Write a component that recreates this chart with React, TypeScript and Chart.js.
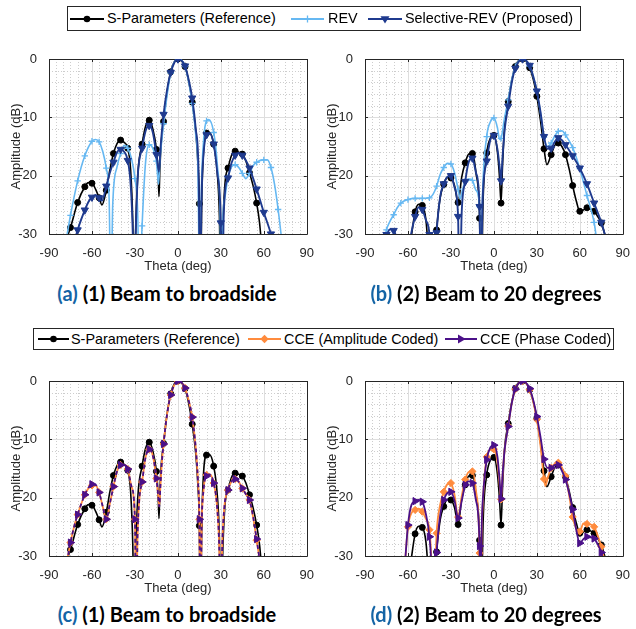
import React, { useEffect, useRef } from 'react';
import { Chart, registerables } from 'chart.js';

Chart.register(...registerables);

type Pt = [number, number];

// ---------- axis ticks ----------
const xTickValues = [-90, -60, -30, 0, 30, 60, 90];
const yTickValues = [-30, -20, -10, 0];
const xMinorTicks = [-85, -80, -75, -70, -65, -55, -50, -45, -40, -35, -25, -20, -15, -10, -5, 5, 10, 15, 20, 25, 35, 40, 45, 50, 55, 65, 70, 75, 80, 85];
const yMinorTicks = [-28, -26, -24, -22, -18, -16, -14, -12, -8, -6, -4, -2];

// ---------- legend / caption labels ----------
const legendTop = ['S-Parameters (Reference)', 'REV', 'Selective-REV (Proposed)'];
const legendBottom = ['S-Parameters (Reference)', 'CCE (Amplitude Coded)', 'CCE (Phase Coded)'];
const captionTags = ['(a)', '(b)', '(c)', '(d)'];
const captionTexts = ['(1) Beam to broadside', '(2) Beam to 20 degrees', '(1) Beam to broadside', '(2) Beam to 20 degrees'];

// ---------- data: [theta (deg), amplitude (dB)] ----------
// Beam 1 (broadside)
const beam1SParam: Pt[] = [[-78,-31],[-75,-28.9],[-70,-24.6],[-65,-21.9],[-62.5,-21.2],[-60,-21.3],[-57.5,-22.3],[-55,-23.8],[-53,-25],[-50,-22.5],[-47.5,-19],[-45,-16.2],[-42.5,-14.5],[-40,-13.9],[-37.5,-14.3],[-35,-15.3],[-33,-19],[-31.5,-28],[-30.5,-42],[-29.5,-30],[-28,-20],[-25,-14.6],[-22.5,-11.5],[-20,-10.5],[-17.5,-12],[-15,-15.5],[-13.8,-19.5],[-13.2,-23.6],[-12.6,-19],[-11.5,-14],[-10,-10.7],[-7.5,-5.6],[-5,-2.2],[-2.5,-0.5],[0,0],[2.5,-0.3],[5,-1.3],[7.5,-3.8],[10,-7.4],[12.5,-12.5],[14,-18],[15,-24.8],[15.7,-42],[16.7,-24],[18,-15.5],[20,-12.7],[22,-12.6],[25,-14.6],[27.5,-19.5],[29,-27],[30,-42],[31.5,-28],[33,-21],[35,-18.7],[37.5,-16.5],[40,-15.8],[42.5,-16],[45,-16.3],[47.5,-17.5],[50,-19.5],[52.5,-21.7],[55,-24.7],[57,-28],[58.5,-32]];
const beam1Rev: Pt[] = [[-78,-31],[-75,-26.8],[-70,-20.9],[-65,-16.6],[-60,-14.1],[-57.5,-13.8],[-55,-14.2],[-52.5,-15.8],[-50,-18.7],[-48,-24],[-46.8,-42],[-45.5,-25],[-42.5,-18.5],[-40,-16.2],[-37.5,-14.8],[-35,-15.3],[-32.5,-17],[-30,-20.5],[-28,-27],[-27,-42],[-25,-28.6],[-22.5,-17.5],[-20,-14.7],[-17.5,-15.3],[-15,-17.5],[-13.5,-21.5],[-12.7,-18],[-10,-11.1],[-5,-2.4],[0,0],[5,-1.3],[10,-7.6],[12.5,-13],[14,-19],[15.3,-42],[16.5,-22],[18,-13.8],[20,-10.6],[21.5,-10.4],[25,-12.6],[27.5,-18],[29.5,-27],[30.3,-42],[31.5,-27],[33,-23.5],[35,-20.3],[37.5,-18.5],[40,-18.1],[42.5,-18.6],[45,-19.6],[47.5,-20.5],[50,-19.6],[52.5,-18.3],[55,-17.7],[60,-17.3],[62.5,-17.3],[65,-18.6],[67.5,-21.5],[70,-25.8],[72.5,-31]];
const beam1SelRev: Pt[] = [[-72,-31],[-70,-29.3],[-67.5,-27.5],[-65,-25.9],[-62.5,-24.5],[-60,-23.7],[-57.5,-23.3],[-55,-23.8],[-53,-24.3],[-50,-21.8],[-47.5,-19.5],[-45,-17.7],[-42.5,-16],[-40,-15.5],[-37.5,-15.9],[-35,-17.4],[-33,-21.5],[-31.5,-30],[-30.7,-42],[-29.5,-30],[-28,-20],[-25,-15.3],[-22.5,-12.3],[-20,-11.4],[-17.5,-12.6],[-15,-16.4],[-13.2,-19.3],[-12.2,-15.5],[-10,-9.5],[-7.5,-5.2],[-5,-2.3],[0,0],[5,-1.2],[7.5,-3.5],[10,-6.7],[12.5,-12],[14.5,-20],[15.5,-42],[16.5,-24],[18,-16],[20,-13],[22,-12.7],[25,-14.6],[27.5,-19.5],[30,-28.1],[30.8,-42],[32,-27],[33,-22.5],[35,-20.4],[37.5,-17.8],[40,-16.5],[42.5,-16.1],[45,-16.5],[47.5,-17.4],[50,-18.7],[55,-22.3],[60,-26.3],[65,-30],[66,-31]];
const beam1CceAmp: Pt[] = [[-77.5,-31],[-75,-27.7],[-72.5,-25],[-70,-22.9],[-65,-19.5],[-62.5,-18.4],[-60,-17.9],[-57.5,-17.9],[-55,-19.1],[-52.5,-21.5],[-50,-23.7],[-47.5,-21],[-45,-18.1],[-42.5,-15.5],[-40,-14.4],[-37.5,-14.4],[-35,-15.1],[-32.5,-18],[-30,-23.7],[-29.2,-42],[-28.2,-27],[-27,-20.5],[-25,-17.3],[-22.5,-13],[-20,-11.7],[-17.5,-12.8],[-15,-16.7],[-13.8,-19.5],[-13,-21.5],[-12.3,-18.5],[-11.2,-14],[-10,-10.8],[-7.5,-5.6],[-5,-2.4],[0,0],[5,-1.2],[7.5,-3.3],[10,-6.2],[12.5,-11.5],[14,-17],[15,-23.7],[15.7,-42],[16.6,-25],[18,-18.5],[20,-16.1],[22,-16],[25,-17.5],[27.5,-22],[29,-30],[29.7,-42],[31,-28],[32.5,-21.5],[35,-18.7],[37.5,-17.2],[40,-16.8],[42.5,-17.3],[45,-18.4],[47.5,-19.4],[50,-20.4],[52.5,-23.3],[55,-27.3],[57.3,-31]];
const beam1CcePhase: Pt[] = [[-77.5,-31],[-75,-27.7],[-72.5,-25],[-70,-22.9],[-65,-19.5],[-62.5,-18.3],[-60,-17.7],[-57.5,-17.8],[-55,-19.1],[-52.5,-21.5],[-50,-23.7],[-47.5,-21],[-45,-18.1],[-42.5,-15.5],[-40,-14.4],[-37.5,-14.4],[-35,-15.1],[-32.5,-18],[-30,-23.7],[-29.2,-42],[-28.2,-27],[-27,-20.5],[-25,-17.3],[-22.5,-13],[-20,-11.7],[-17.5,-12.8],[-15,-16.7],[-13.8,-19.5],[-13,-21.5],[-12.3,-18.5],[-11.2,-14],[-10,-10.8],[-7.5,-5.6],[-5,-2.4],[0,0],[5,-1.2],[7.5,-3.3],[10,-6.2],[12.5,-11.5],[14,-17],[15,-23.7],[15.7,-42],[16.6,-25],[18,-18.5],[20,-16.3],[22,-16],[25,-17.5],[27.5,-22],[29,-30],[29.7,-42],[31,-28],[32.5,-21.5],[35,-18.7],[37.5,-17.2],[40,-16.8],[42.5,-17.3],[45,-18.4],[47.5,-19.4],[50,-20.4],[52.5,-23.2],[55,-27.1],[57.3,-31]];

// Beam 2 (20 degrees)
const beam2SParam: Pt[] = [[-58,-31],[-55,-26.2],[-52.5,-24.9],[-50,-25.1],[-47.5,-27.5],[-46.3,-31],[-43.5,-42],[-40,-29.3],[-37.5,-23.8],[-35,-21.5],[-32.5,-20.3],[-30,-20.4],[-27.5,-21.7],[-25,-24.6],[-22.5,-20.3],[-20,-17.8],[-17.5,-16.3],[-15,-16.2],[-12.5,-19.5],[-10,-27.3],[-9,-42],[-7.5,-24],[-5,-16.1],[-2.5,-13.6],[0,-13.1],[2.5,-16],[4,-20.5],[5,-24.7],[6,-18.5],[7.5,-11.5],[10,-7.3],[12.5,-3.6],[15,-1.3],[17.5,-0.2],[20,0],[22.5,-0.4],[25,-1.5],[27.5,-3.5],[30,-6.4],[32.5,-10.5],[35,-15.4],[37,-18.1],[40,-16.4],[42.5,-14.8],[45,-14.4],[47.5,-15],[50,-16.4],[52.5,-18.8],[55,-21.7],[57.5,-24.3],[60,-26.1],[62.5,-25.9],[65,-25.5],[67.5,-25.7],[70,-26.1],[72.5,-27],[75,-28.1],[78,-30.5]];
const beam2Rev: Pt[] = [[-76,-30.5],[-75,-29.3],[-72.5,-27.8],[-70,-26.7],[-67.5,-25.5],[-65,-24.7],[-60,-24.1],[-55,-23.9],[-50,-23.9],[-45,-23.8],[-42.5,-23.2],[-40,-21.8],[-37.5,-19.8],[-35,-18.6],[-32.5,-17.9],[-30,-18],[-27.5,-19.5],[-25,-22.3],[-23.5,-24],[-22,-22.5],[-20,-21],[-17.5,-20.6],[-15,-20.8],[-12.5,-22.5],[-10,-25.3],[-9.3,-42],[-8,-24],[-5,-13.3],[-2.5,-10.8],[0,-10.1],[2.5,-11.8],[4,-13.8],[5,-13.6],[7.5,-10],[10,-7],[12.5,-3.5],[15,-1.3],[20,0],[25,-1.2],[27.5,-3],[30,-5.5],[32.5,-9.2],[35,-13.4],[37.5,-15],[40,-14.4],[42.5,-13.2],[45,-12.4],[47.5,-12.3],[50,-13],[55,-15.2],[60,-18.8],[65,-23.4],[70,-28],[71.5,-30.5]];
const beam2SelRev: Pt[] = [[-76,-30.3],[-75,-30.1],[-72.5,-29.2],[-70,-29.4],[-68,-31],[-64,-42],[-58.5,-31],[-55,-27],[-52.5,-25.4],[-50,-25.8],[-47.5,-27.6],[-45,-30.1],[-42.5,-42],[-40,-29.8],[-37.5,-23.6],[-35,-21.4],[-32.5,-20.2],[-30,-20],[-27.5,-22],[-25,-27],[-24,-42],[-22.5,-26.5],[-20,-21],[-17.5,-17.6],[-15,-17],[-12.5,-19.5],[-10,-25.3],[-9.2,-42],[-8,-25],[-5,-17.5],[-2.5,-13.9],[0,-13.1],[2.5,-15.5],[4,-18.5],[5,-20.9],[6,-17],[7.5,-12.2],[10,-8.1],[12.5,-4],[15,-1.6],[20,0],[25,-1.1],[27.5,-3],[30,-5.5],[32.5,-9],[35,-13.3],[37.5,-15.4],[40,-15.3],[42.5,-14.2],[45,-13.5],[47.5,-13.9],[50,-14.7],[55,-16.6],[60,-18.7],[65,-21.4],[70,-24.7],[75,-28],[78,-30.5]];
const beam2CceAmp: Pt[] = [[-62,-31],[-60,-25],[-57.5,-22.6],[-55,-22.1],[-52.5,-21.9],[-50,-22.4],[-47.5,-23.6],[-45,-25.5],[-43.8,-30],[-42.5,-42],[-40,-26.1],[-37.5,-21.2],[-35,-19],[-32.5,-17.7],[-30,-17.5],[-27.5,-19.5],[-25,-23.3],[-22.5,-19.8],[-20,-16.9],[-17.5,-15.6],[-15,-15.5],[-12.5,-18.8],[-10,-29.5],[-9.5,-42],[-8.5,-26],[-7.5,-20],[-5,-13],[-2.5,-11.8],[0,-11.7],[2.5,-14],[4,-17.8],[5,-20.3],[6,-16.5],[7.5,-11.8],[10,-7.7],[12.5,-3.8],[15,-1.4],[20,0],[25,-1.5],[27.5,-3.6],[30,-6.6],[32.5,-11],[35,-16.8],[36,-18],[37.5,-16.7],[40,-14.9],[42.5,-14.2],[45,-14],[47.5,-14.9],[50,-16.3],[52.5,-19.5],[55,-23.3],[57.5,-25.3],[60,-25.8],[62.5,-24.4],[65,-24.5],[67.5,-24.6],[70,-25],[72.5,-26.5],[75,-28.4],[77,-30.5]];
const beam2CcePhase: Pt[] = [[-62,-31],[-60,-24.7],[-57.5,-21.2],[-55,-20.6],[-52.5,-20.4],[-50,-20.7],[-47.5,-22.8],[-45,-26.7],[-43.8,-31],[-42.5,-42],[-40,-29.4],[-37.5,-23],[-35,-20.4],[-32.5,-19.2],[-30,-19],[-27.5,-20.5],[-25,-23.5],[-22.5,-20.6],[-20,-17.8],[-17.5,-17.2],[-15,-17.5],[-12.5,-20.5],[-10,-28.3],[-9.5,-42],[-8.5,-25],[-7.5,-19.5],[-5,-13.5],[-2.5,-11.4],[0,-11],[2.5,-13],[4,-17],[5,-20.2],[6,-16.3],[7.5,-11.8],[10,-7.8],[12.5,-3.8],[15,-1.4],[20,0],[25,-1.3],[27.5,-3.3],[30,-6.1],[32.5,-9.5],[35,-13.4],[37.5,-14.9],[40,-14.9],[42.5,-14.4],[45,-14.4],[47.5,-15.4],[50,-16.9],[52.5,-19.2],[55,-22],[57.5,-25.5],[60,-27.8],[62.5,-27.1],[65,-26.7],[67.5,-26.8],[70,-27],[72.5,-28],[75,-29.4],[76.5,-31]];

// ---------- styles ----------
const FONT = "'Liberation Sans', Arial, Helvetica, sans-serif";
const AX = '#262626';
const C_BLACK = '#000000';
const C_REV = '#66b8f2';
const C_SEL = '#1f3a8e';
const C_AMP = '#ff8b3d';
const C_PHA = '#4b1189';

type Marker = 'circle' | 'cross' | 'down' | 'diamond' | 'right';
interface Series { label: string; points: Pt[]; color: string; marker: Marker; width: number; dash?: number[]; order: number; }

const markerStyle: Record<Marker, { style: string; rot: number; r: number }> = {
  circle: { style: 'circle', rot: 0, r: 3 },
  cross: { style: 'cross', rot: 0, r: 3.2 },
  down: { style: 'triangle', rot: 180, r: 4.2 },
  diamond: { style: 'rectRot', rot: 0, r: 3.6 },
  right: { style: 'triangle', rot: 90, r: 4.2 },
};

const matlabAxes = {
  id: 'matlabAxes',
  beforeDatasetsDraw(chart: any) {
    const { ctx, chartArea, scales } = chart;
    const { left, right, top, bottom } = chartArea;
    const xs = scales.x, ys = scales.y;
    const s = (v: number) => Math.round(v) + 0.5;
    ctx.save();
    ctx.lineWidth = 1;
    ctx.strokeStyle = '#cdcdcd';
    ctx.setLineDash([1, 2]);
    ctx.beginPath();
    xMinorTicks.forEach((v) => { const p = s(xs.getPixelForValue(v)); ctx.moveTo(p, top); ctx.lineTo(p, bottom); });
    yMinorTicks.forEach((v) => { const p = s(ys.getPixelForValue(v)); ctx.moveTo(left, p); ctx.lineTo(right, p); });
    ctx.stroke();
    ctx.setLineDash([]);
    ctx.strokeStyle = '#dedede';
    ctx.beginPath();
    xTickValues.forEach((v) => { const p = s(xs.getPixelForValue(v)); ctx.moveTo(p, top); ctx.lineTo(p, bottom); });
    yTickValues.forEach((v) => { const p = s(ys.getPixelForValue(v)); ctx.moveTo(left, p); ctx.lineTo(right, p); });
    ctx.stroke();
    ctx.strokeStyle = AX;
    ctx.beginPath();
    ctx.rect(s(left), s(top), Math.round(right) - Math.round(left), Math.round(bottom) - Math.round(top));
    xTickValues.forEach((v) => {
      const p = s(xs.getPixelForValue(v));
      ctx.moveTo(p, bottom); ctx.lineTo(p, bottom - 3);
      ctx.moveTo(p, top); ctx.lineTo(p, top + 3);
    });
    yTickValues.forEach((v) => {
      const p = s(ys.getPixelForValue(v));
      ctx.moveTo(left, p); ctx.lineTo(left + 3, p);
      ctx.moveTo(right, p); ctx.lineTo(right - 3, p);
    });
    ctx.stroke();
    ctx.restore();
  },
};

function Panel({ left, top, series }: { left: number; top: number; series: Series[] }) {
  const ref = useRef<HTMLCanvasElement>(null);
  useEffect(() => {
    const font = { family: FONT, size: 13 };
    const chart = new Chart(ref.current as HTMLCanvasElement, {
      type: 'line',
      data: {
        datasets: series.map((sr) => {
          const m = markerStyle[sr.marker];
          return {
            label: sr.label,
            data: sr.points.map(([x, y]) => ({ x, y })),
            borderColor: sr.color,
            backgroundColor: sr.color,
            borderWidth: sr.width,
            borderDash: sr.dash || [],
            pointStyle: m.style,
            pointRotation: m.rot,
            pointRadius: (c: any) => (c.raw && c.raw.x % 5 === 0 ? m.r : 0),
            pointBorderWidth: sr.marker === 'cross' ? 1.3 : 1,
            pointBackgroundColor: sr.color,
            pointBorderColor: sr.color,
            cubicInterpolationMode: 'monotone',
            fill: false,
            order: sr.order,
          } as any;
        }),
      },
      options: {
        animation: false,
        responsive: false,
        maintainAspectRatio: false,
        events: [],
        layout: { padding: { top: 19, right: 4, left: 0, bottom: 0 } },
        plugins: { legend: { display: false }, tooltip: { enabled: false } },
        scales: {
          x: {
            type: 'linear', min: -90, max: 90,
            afterBuildTicks: (sc: any) => { sc.ticks = xTickValues.map((v) => ({ value: v })); },
            afterFit: (sc: any) => { sc.height = 40; },
            grid: { display: false }, border: { display: false },
            ticks: { padding: 4, font, color: AX, maxRotation: 0, autoSkip: false, callback: (v: any) => String(v) },
            title: { display: true, text: 'Theta (deg)', font, color: AX, padding: { top: 0, bottom: 0 } },
          },
          y: {
            type: 'linear', min: -30, max: 0,
            afterBuildTicks: (sc: any) => { sc.ticks = yTickValues.map((v) => ({ value: v })); },
            afterFit: (sc: any) => { sc.width = 49; },
            grid: { display: false }, border: { display: false },
            ticks: { padding: 4, font, color: AX, autoSkip: false, callback: (v: any) => String(v) },
            title: { display: true, text: 'Amplitude (dB)', font, color: AX, padding: { top: 9, bottom: 0 } },
          },
        },
      } as any,
      plugins: [matlabAxes as any],
    });
    return () => chart.destroy();
  }, []);
  return <canvas ref={ref} width={318} height={234} style={{ position: 'absolute', left, top, width: 318, height: 234 }} />;
}

function Sample({ color, marker, width }: { color: string; marker: Marker; width: number }) {
  const cx = width / 2, cy = 8;
  let m: any = null;
  if (marker === 'circle') m = <circle cx={cx} cy={cy} r={3.3} fill={color} />;
  if (marker === 'cross') m = <path d={`M${cx - 3.5} ${cy}H${cx + 3.5}M${cx} ${cy - 3.5}V${cy + 3.5}`} stroke={color} strokeWidth={1.3} />;
  if (marker === 'down') m = <polygon points={`${cx - 4.5},${cy - 2.8} ${cx + 4.5},${cy - 2.8} ${cx},${cy + 4.5}`} fill={color} />;
  if (marker === 'diamond') m = <polygon points={`${cx},${cy - 4.2} ${cx + 4.2},${cy} ${cx},${cy + 4.2} ${cx - 4.2},${cy}`} fill={color} />;
  if (marker === 'right') m = <polygon points={`${cx - 3},${cy - 4.5} ${cx + 4.8},${cy} ${cx - 3},${cy + 4.5}`} fill={color} />;
  return (
    <svg width={width} height={16} style={{ display: 'block' }}>
      <line x1={0} y1={cy} x2={width} y2={cy} stroke={color} strokeWidth={2} />
      {m}
    </svg>
  );
}

function Legend({ left, top, width, height, items }: { left: number; top: number; width: number; height: number; items: { label: string; color: string; marker: Marker; sx: number; sw: number; tx: number }[] }) {
  return (
    <div style={{ position: 'absolute', left, top, width, height, border: `1px solid ${AX}`, background: '#fff', boxSizing: 'border-box' }}>
      {items.map((it, i) => (
        <React.Fragment key={i}>
          <div style={{ position: 'absolute', left: it.sx - left, top: height / 2 - 9 }}>
            <Sample color={it.color} marker={it.marker} width={it.sw} />
          </div>
          <div style={{ position: 'absolute', left: it.tx - left, top: 0, height: height - 2, lineHeight: `${height - 2}px`, fontFamily: FONT, fontSize: 14.4, color: '#000', whiteSpace: 'nowrap' }}>{it.label}</div>
        </React.Fragment>
      ))}
    </div>
  );
}

function Caption({ cx, cy, tag, text }: { cx: number; cy: number; tag: string; text: string }) {
  return (
    <div style={{ position: 'absolute', left: cx - 160, top: cy - 11, width: 320, height: 22, lineHeight: '22px', textAlign: 'center', fontFamily: "Lato, 'Open Sans', sans-serif", fontWeight: 700, fontSize: 20, color: '#000', whiteSpace: 'nowrap' }}>
      <span style={{ color: '#1464a5' }}>{tag}</span> {text}
    </div>
  );
}

export default function App() {
  const sA: Series[] = [
    { label: legendTop[0], points: beam1SParam, color: C_BLACK, marker: 'circle', width: 1.6, order: 3 },
    { label: legendTop[1], points: beam1Rev, color: C_REV, marker: 'cross', width: 1.6, order: 2 },
    { label: legendTop[2], points: beam1SelRev, color: C_SEL, marker: 'down', width: 1.9, order: 1 },
  ];
  const sB: Series[] = [
    { label: legendTop[0], points: beam2SParam, color: C_BLACK, marker: 'circle', width: 1.6, order: 3 },
    { label: legendTop[1], points: beam2Rev, color: C_REV, marker: 'cross', width: 1.6, order: 2 },
    { label: legendTop[2], points: beam2SelRev, color: C_SEL, marker: 'down', width: 1.9, order: 1 },
  ];
  const sC: Series[] = [
    { label: legendBottom[0], points: beam1SParam, color: C_BLACK, marker: 'circle', width: 1.6, order: 3 },
    { label: legendBottom[1], points: beam1CceAmp, color: C_AMP, marker: 'diamond', width: 1.8, order: 2 },
    { label: legendBottom[2], points: beam1CcePhase, color: C_PHA, marker: 'right', width: 1.8, dash: [4, 3], order: 1 },
  ];
  const sD: Series[] = [
    { label: legendBottom[0], points: beam2SParam, color: C_BLACK, marker: 'circle', width: 1.6, order: 3 },
    { label: legendBottom[1], points: beam2CceAmp, color: C_AMP, marker: 'diamond', width: 1.8, order: 2 },
    { label: legendBottom[2], points: beam2CcePhase, color: C_PHA, marker: 'right', width: 1.8, order: 1 },
  ];
  return (
    <div style={{ position: 'absolute', left: 0, top: 0, width: 636, height: 629, background: '#fff', overflow: 'hidden' }}>
      <Panel left={0} top={40} series={sA} />
      <Panel left={316} top={40} series={sB} />
      <Panel left={0} top={362} series={sC} />
      <Panel left={316} top={362} series={sD} />
      <Legend left={67} top={6} width={514} height={25} items={[
        { label: legendTop[0], color: C_BLACK, marker: 'circle', sx: 69, sw: 34, tx: 106 },
        { label: legendTop[1], color: C_REV, marker: 'cross', sx: 290, sw: 33, tx: 327 },
        { label: legendTop[2], color: C_SEL, marker: 'down', sx: 367, sw: 34, tx: 404 },
      ]} />
      <Legend left={33} top={328} width={581} height={22} items={[
        { label: legendBottom[0], color: C_BLACK, marker: 'circle', sx: 37, sw: 31, tx: 70 },
        { label: legendBottom[1], color: C_AMP, marker: 'diamond', sx: 247, sw: 33, tx: 283 },
        { label: legendBottom[2], color: C_PHA, marker: 'right', sx: 444, sw: 32, tx: 479 },
      ]} />
      <Caption cx={167} cy={293} tag={captionTags[0]} text={captionTexts[0]} />
      <Caption cx={486} cy={293} tag={captionTags[1]} text={captionTexts[1]} />
      <Caption cx={167} cy={614} tag={captionTags[2]} text={captionTexts[2]} />
      <Caption cx={486} cy={614} tag={captionTags[3]} text={captionTexts[3]} />
    </div>
  );
}
